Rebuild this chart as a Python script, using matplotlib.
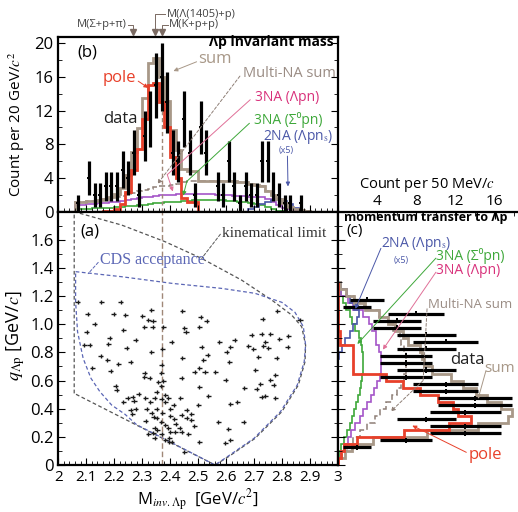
import numpy as np
import matplotlib
matplotlib.use('Agg')
import matplotlib.pyplot as plt
from matplotlib.ticker import MultipleLocator, FixedLocator, FixedFormatter
import matplotlib.transforms as mtransforms

plt.rcParams['font.family'] = ['Open Sans', 'DejaVu Sans']
plt.rcParams['mathtext.fontset'] = 'stix'

# ---------------- (b) Lambda-p invariant mass, 20 MeV bins ----------------
m_lo, m_hi, m_bw = 2.06, 2.90, 0.02
m_data = [2.07, 2.11, 2.13, 2.15, 2.17, 2.19, 2.21, 2.23, 2.25, 2.27,
          2.29, 2.31, 2.33, 2.35, 2.37, 2.39, 2.41, 2.43, 2.45, 2.47,
          2.49, 2.51, 2.53, 2.57, 2.59, 2.61, 2.63, 2.65, 2.67, 2.69,
          2.71, 2.73, 2.75, 2.77, 2.79, 2.81, 2.83, 2.87]
n_data = [1, 4, 2, 2, 3, 3, 3, 5, 4, 7,
          2, 9, 11, 15, 16, 13, 7, 6, 11, 7,
          2, 10, 7, 3, 2, 6, 3, 1, 3, 2,
          2, 6, 6, 3, 2, 1, 1, 1]

# histograms, one value per bin from 2.06 to 2.90
sum_b = [1.1, 1.1, 1.25, 1.3, 1.4, 1.5, 1.7, 2.05, 2.8, 4.35, 7.1, 9.9, 13.5, 17.7,
         18.2, 16.0, 13.1, 9.7, 7.3, 5.1, 4.8, 4.8, 3.7, 3.7, 3.7, 3.7, 3.6, 3.6,
         3.6, 3.5, 3.5, 3.3, 3.2, 3.0, 2.5, 2.0, 1.5, 1.0, 0.6, 0.35, 0.15, 0.05]
pole_b = [0, 0, 0, 0, 0, 0.05, 0.1, 0.3, 0.9, 2.3, 4.9, 7.5, 11.0, 15.0,
          15.3, 13.0, 10.0, 6.5, 4.0, 1.6, 1.2, 1.2, 0, 0, 0, 0, 0, 0,
          0, 0, 0, 0, 0, 0, 0, 0, 0, 0, 0, 0, 0, 0]
multi_b = [1.1, 1.1, 1.25, 1.3, 1.4, 1.45, 1.6, 1.75, 1.9, 2.05, 2.2, 2.4, 2.55, 2.7,
           2.9, 3.0, 3.1, 3.2, 3.3, 3.5, 3.6, 3.6, 3.7, 3.7, 3.7, 3.7, 3.6, 3.6,
           3.6, 3.5, 3.5, 3.3, 3.2, 3.0, 2.5, 2.0, 1.5, 1.0, 0.6, 0.35, 0.15, 0.05]
lpn_b = [0.8, 0.8, 0.9, 0.9, 1.0, 1.0, 1.1, 1.2, 1.3, 1.4, 1.5, 1.6, 1.7, 1.8,
         1.9, 2.0, 2.0, 2.0, 2.1, 2.1, 2.1, 2.1, 2.1, 2.1, 2.1, 2.0, 2.0, 2.0,
         1.9, 1.9, 1.9, 1.8, 1.8, 1.7, 1.5, 1.2, 0.8, 0.5, 0.3, 0.1, 0.05, 0]
s0pn_b = [0.3, 0.3, 0.35, 0.4, 0.4, 0.45, 0.5, 0.55, 0.6, 0.65, 0.7, 0.8, 0.85, 0.9,
          1.0, 1.05, 1.1, 1.15, 1.2, 1.25, 1.3, 1.35, 1.4, 1.4, 1.4, 1.4, 1.35, 1.3,
          1.25, 1.2, 1.1, 1.0, 0.9, 0.75, 0.55, 0.3, 0.1, 0.05, 0, 0, 0, 0]
twona_b = [0, 0, 0, 0, 0, 0, 0, 0, 0, 0, 0, 0, 0, 0,
           0, 0, 0, 0, 0, 0, 0, 0, 0, 0, 0, 0, 0, 0,
           0, 0, 0, 0.3, 0.6, 0.9, 1.2, 1.4, 1.5, 1.3, 0.9, 0.4, 0.1, 0]

# ---------------- (a) events: (M_inv, q) ----------------
events = [
    (2.069, 1.160), (2.153, 1.160), (2.223, 1.156),
    (2.105, 1.070), (2.199, 1.075), (2.239, 1.066), (2.301, 1.061), (2.332, 1.101),
    (2.444, 1.094), (2.510, 1.049), (2.783, 1.094),
    (2.131, 1.004), (2.322, 1.030), (2.339, 1.023), (2.532, 1.025), (2.731, 1.037), (2.865, 1.028),
    (2.308, 0.983), (2.338, 0.983), (2.376, 0.983), (2.451, 0.976), (2.504, 0.978), (2.233, 0.959),
    (2.101, 0.942), (2.457, 0.942), (2.692, 0.924), (2.728, 0.933), (2.758, 0.928), (2.823, 0.919),
    (2.185, 0.905), (2.277, 0.890), (2.406, 0.876), (2.576, 0.874), (2.632, 0.886), (2.740, 0.876),
    (2.791, 0.895),
    (2.093, 0.852), (2.112, 0.852), (2.178, 0.862), (2.245, 0.829),
    (2.333, 0.805), (2.372, 0.824), (2.513, 0.841), (2.680, 0.845), (2.616, 0.841), (2.698, 0.824),
    (2.734, 0.843), (2.752, 0.829), (2.821, 0.836),
    (2.152, 0.774), (2.535, 0.781), (2.603, 0.805), (2.716, 0.767),
    (2.175, 0.744), (2.215, 0.715), (2.260, 0.729), (2.444, 0.758), (2.519, 0.746), (2.611, 0.734),
    (2.782, 0.762),
    (2.122, 0.687), (2.187, 0.670), (2.370, 0.710), (2.505, 0.691), (2.704, 0.677),
    (2.310, 0.654), (2.368, 0.654), (2.489, 0.663), (2.525, 0.663), (2.561, 0.663), (2.776, 0.637),
    (2.308, 0.623), (2.327, 0.616), (2.358, 0.592), (2.376, 0.597), (2.442, 0.616), (2.599, 0.606),
    (2.758, 0.604), (2.723, 0.578),
    (2.205, 0.564), (2.368, 0.564), (2.505, 0.554), (2.666, 0.545), (2.710, 0.540), (2.771, 0.568),
    (2.210, 0.533),
    (2.352, 0.521), (2.382, 0.497), (2.437, 0.478), (2.537, 0.488), (2.248, 0.474), (2.267, 0.483),
    (2.288, 0.502), (2.311, 0.474), (2.346, 0.474), (2.370, 0.469), (2.394, 0.478), (2.740, 0.493),
    (2.777, 0.474), (2.728, 0.483),
    (2.233, 0.450), (2.271, 0.455), (2.329, 0.450), (2.383, 0.450), (2.413, 0.426), (2.501, 0.426),
    (2.616, 0.431), (2.640, 0.445),
    (2.260, 0.388), (2.278, 0.398), (2.317, 0.398), (2.352, 0.398), (2.400, 0.398), (2.459, 0.391),
    (2.475, 0.365), (2.442, 0.355), (2.265, 0.360), (2.334, 0.367), (2.372, 0.367), (2.341, 0.341),
    (2.401, 0.346),
    (2.352, 0.332), (2.313, 0.313), (2.368, 0.308), (2.415, 0.327), (2.459, 0.332), (2.475, 0.320),
    (2.420, 0.294), (2.573, 0.308), (2.663, 0.308), (2.382, 0.284),
    (2.346, 0.265), (2.394, 0.260), (2.355, 0.251), (2.434, 0.265), (2.442, 0.237), (2.487, 0.279),
    (2.609, 0.256), (2.322, 0.218), (2.340, 0.227), (2.370, 0.223), (2.400, 0.237), (2.418, 0.232),
    (2.465, 0.218), (2.397, 0.189),
    (2.346, 0.189), (2.382, 0.178), (2.397, 0.161), (2.406, 0.166), (2.505, 0.166), (2.597, 0.154),
    (2.616, 0.175),
    (2.451, 0.095),
]

# boundaries in the (M, q) plane
kin_m = [2.057, 2.057, 2.227, 2.382, 2.513, 2.656, 2.764, 2.835, 2.871, 2.885,
         2.883, 2.859, 2.800, 2.704, 2.609, 2.561, 2.057]
kin_q = [0.509, 1.800, 1.705, 1.587, 1.468, 1.314, 1.172, 1.066, 0.983, 0.852,
         0.734, 0.568, 0.379, 0.189, 0.059, 0.000, 0.509]
cds_m = [2.062, 2.227, 2.406, 2.585, 2.704, 2.800, 2.847, 2.877, 2.885, 2.880,
         2.855, 2.795, 2.700, 2.605, 2.561, 2.280, 2.239, 2.191, 2.149, 2.117,
         2.089, 2.069, 2.062, 2.062]
cds_q = [1.374, 1.338, 1.291, 1.255, 1.220, 1.156, 1.085, 0.983, 0.852, 0.734,
         0.568, 0.379, 0.189, 0.059, 0.000, 0.287, 0.360, 0.426, 0.521, 0.616,
         0.758, 0.947, 1.160, 1.374]
m_kpp = 2.370  # M(K+p+p)

# ---------------- (c) momentum transfer, 50 MeV/c bins ----------------
q_lo, q_hi, q_bw = 0.0, 1.30, 0.05
q_data = [0.125, 0.175, 0.225, 0.275, 0.325, 0.375, 0.425, 0.475, 0.525, 0.575, 0.625,
          0.675, 0.725, 0.775, 0.825, 0.875, 0.925, 0.975, 1.025, 1.075, 1.125, 1.175]
nq_data = [2, 7, 13, 13, 9, 13, 14, 14, 11, 11, 7, 9, 7, 7, 9, 11, 9, 6, 6, 8, 2, 3]

sum_c = [0, 0.7, 1.5, 3.6, 9.1, 14.3, 17.3, 17.8, 16.6, 15.2, 14.1, 12.8, 11.5,
         9.6, 8.8, 8.6, 8.4, 7.2, 6.6, 5.8, 5.1, 4.2, 2.8, 1.7, 0.8, 0.2]
pole_c = [0, 0.3, 0.6, 2.0, 6.8, 11.3, 13.6, 12.3, 11.7, 10.2, 8.4, 6.7, 4.9,
          1.6, 1.6, 1.6, 1.6, 0.2, 0.2, 0, 0, 0, 0, 0, 0, 0]
multi_c = [0, 0.4, 0.9, 1.6, 2.3, 3.0, 3.8, 4.3, 4.9, 5.5, 6.0, 6.4, 6.8,
           7.0, 7.0, 7.0, 6.8, 6.4, 6.3, 5.6, 5.1, 4.2, 2.7, 1.7, 0.8, 0.1]
lpn_c = [0, 0.3, 0.6, 1.0, 1.4, 1.8, 2.3, 2.6, 3.0, 3.4, 3.7, 4.0, 4.3,
         4.4, 4.4, 4.4, 4.2, 3.9, 3.9, 3.5, 3.2, 2.6, 1.6, 1.0, 0.3, 0]
s0pn_c = [0, 0.1, 0.3, 0.6, 0.9, 1.2, 1.5, 1.7, 1.9, 2.1, 2.3, 2.4, 2.5,
          2.6, 2.6, 2.6, 2.5, 2.4, 2.2, 1.8, 1.5, 1.2, 0.8, 0.5, 0.3, 0]
twona_c = [0, 0, 0, 0, 0, 0, 0, 0, 0, 0, 0, 0, 0,
           0, 0, 0.1, 0.4, 0.7, 1.2, 1.6, 2.0, 2.2, 1.7, 1.3, 0.9, 0.3]

# colours
c_sum = '#a89888'
c_multi = '#8e7f76'
c_pole = '#e8402a'
c_lpn_txt = '#d8307a'
c_lpn = '#a455c8'
c_green = '#3ea83a'
c_blue = '#4b58a8'
c_kin = '#555555'
c_cds = '#5b66b5'

fig = plt.figure(figsize=(5.18, 5.12), dpi=100)
axb = fig.add_axes([0.1125, 0.5865, 0.5395, 0.3422])
axa = fig.add_axes([0.1125, 0.0918, 0.5395, 0.4947])
axc = fig.add_axes([0.652, 0.0918, 0.36, 0.4947])

for ax in (axa, axb, axc):
    for s in ax.spines.values():
        s.set_linewidth(1.6)


def pointer(ax, p0, p1, color, ls='-', head=True):
    ax.annotate('', xy=p1, xytext=p0,
                arrowprops=dict(arrowstyle='-|>' if head else '-', color=color, lw=0.7,
                                ls=ls, mutation_scale=6, shrinkA=0, shrinkB=0))


# ---- panel (b) ----
edges_b = np.round(np.arange(m_lo, m_hi + 1e-6, m_bw), 3)
axb.stairs(multi_b, edges_b, color=c_multi, lw=1.1, ls=(0, (4, 2)))
axb.stairs(s0pn_b, edges_b, color=c_green, lw=1.2)
axb.stairs(lpn_b, edges_b, color=c_lpn, lw=1.2)
axb.stairs(twona_b, edges_b, color=c_blue, lw=1.2)
axb.stairs(sum_b, edges_b, color=c_sum, lw=2.0)
axb.stairs(pole_b, edges_b, color=c_pole, lw=2.0)
axb.plot([m_kpp, m_kpp], [0, 12], ls=(0, (3, 2)), color='#a08878', lw=1.0)
n_arr = np.array(n_data, float)
axb.errorbar(m_data, n_data, yerr=np.sqrt(n_arr), fmt='none', ecolor='k', elinewidth=2.3, capsize=0)
axb.errorbar(m_data, n_data, xerr=0.007, fmt='none', ecolor='k', elinewidth=1.4, capsize=0)

axb.set_xlim(2, 3)
axb.set_ylim(0, 20.8)
axb.yaxis.set_major_locator(FixedLocator([0, 4, 8, 12, 16, 20]))
axb.yaxis.set_minor_locator(MultipleLocator(2))
axb.xaxis.set_major_locator(MultipleLocator(0.1))
axb.xaxis.set_minor_locator(MultipleLocator(0.02))
axb.tick_params(which='both', direction='in', right=True, labelbottom=False, labelsize=12)
axb.tick_params(which='major', length=5)
axb.tick_params(which='minor', length=3)
axb.set_ylabel('Count per 20 GeV/$c^2$', fontsize=11)
axb.yaxis.set_label_coords(-0.112, 0.5)

axb.text(2.07, 18.9, '(b)', fontsize=12, va='center')
axb.text(2.985, 20.1, 'Λp invariant mass', fontsize=10, fontweight='bold', ha='right', va='center')
axb.text(2.50, 18.1, 'sum', fontsize=12, color=c_sum, va='center')
axb.text(2.16, 15.9, 'pole', fontsize=12, color=c_pole, va='center')
axb.text(2.16, 11.0, 'data', fontsize=12, color='#222222', va='center')
axb.text(2.662, 16.4, 'Multi-NA sum', fontsize=10.5, color='#9a8c84', va='center')
axb.text(2.705, 13.6, '3NA (Λpn)', fontsize=10, color=c_lpn_txt, va='center')
axb.text(2.70, 10.9, '3NA (Σ⁰pn)', fontsize=10, color=c_green, va='center')
axb.text(2.733, 8.9, '2NA (Λpn$_\\mathrm{s}$)', fontsize=10, color=c_blue, va='center')
axb.text(2.815, 7.3, '(x5)', fontsize=6.5, color=c_blue, ha='center', va='center')
pointer(axb, (2.495, 17.8), (2.412, 16.7), c_sum)
pointer(axb, (2.286, 15.5), (2.322, 14.7), c_pole)
pointer(axb, (2.65, 16.1), (2.355, 3.3), c_multi, ls=(0, (3, 2)))
pointer(axb, (2.687, 13.3), (2.39, 4.4), '#e07098', head=False)
pointer(axb, (2.39, 4.4), (2.41, 2.4), '#e07098')
pointer(axb, (2.684, 10.5), (2.46, 3.6), c_green, head=False)
pointer(axb, (2.46, 3.6), (2.447, 1.9), c_green)
pointer(axb, (2.82, 6.6), (2.822, 3.0), c_blue)

# threshold markers above (b)
trb = mtransforms.blended_transform_factory(axb.transData, axb.transAxes)
c_thr = '#7a6a62'
thr_m = [2.268, 2.347, 2.372]
axb.plot(thr_m, [1.025] * 3, 'v', ms=4.5, color=c_thr, transform=trb, clip_on=False)
axb.plot([2.25, 2.268, 2.268], [1.066, 1.066, 1.04], color=c_thr, lw=0.7, transform=trb, clip_on=False)
axb.plot([2.383, 2.347, 2.347], [1.128, 1.128, 1.04], color=c_thr, lw=0.7, transform=trb, clip_on=False)
axb.plot([2.393, 2.372, 2.372], [1.066, 1.066, 1.04], color=c_thr, lw=0.7, transform=trb, clip_on=False)
axb.text(2.245, 1.066, 'M(Σ+p+π)', fontsize=8, color='#444444', ha='right', va='center',
         transform=trb, clip_on=False)
axb.text(2.387, 1.128, 'M(Λ(1405)+p)', fontsize=8, color='#444444', ha='left', va='center',
         transform=trb, clip_on=False)
axb.text(2.397, 1.066, 'M(K+p+p)', fontsize=8, color='#444444', ha='left', va='center',
         transform=trb, clip_on=False)

# ---- panel (a) ----
ev = np.array(events)
axa.plot(kin_m, kin_q, ls=(0, (3, 2)), color=c_kin, lw=0.9)
axa.plot(cds_m, cds_q, ls=(0, (3, 2)), color=c_cds, lw=0.9)
axa.axvline(m_kpp, ls=(0, (4, 2)), color='#a08878', lw=1.0)
axa.errorbar(ev[:, 0], ev[:, 1], xerr=0.009, yerr=0.014, fmt='none', ecolor='#1a1a1a',
             elinewidth=1.0, capsize=0)
axa.set_xlim(2, 3)
axa.set_ylim(0, 1.8)
xt = [2.0, 2.1, 2.2, 2.3, 2.4, 2.5, 2.6, 2.7, 2.8, 2.9, 3.0]
axa.xaxis.set_major_locator(FixedLocator(xt))
axa.xaxis.set_major_formatter(FixedFormatter(['2', '2.1', '2.2', '2.3', '2.4', '2.5', '2.6',
                                               '2.7', '2.8', '2.9', '3']))
axa.xaxis.set_minor_locator(MultipleLocator(0.02))
yt = [0, 0.2, 0.4, 0.6, 0.8, 1.0, 1.2, 1.4, 1.6]
axa.yaxis.set_major_locator(FixedLocator(yt))
axa.yaxis.set_major_formatter(FixedFormatter(['0', '0.2', '0.4', '0.6', '0.8', '1.0', '1.2',
                                               '1.4', '1.6']))
axa.yaxis.set_minor_locator(MultipleLocator(0.1))
axa.tick_params(which='both', direction='in', right=True)
axa.tick_params(axis='x', labelsize=11)
axa.tick_params(axis='y', labelsize=12)
axa.tick_params(which='major', length=5)
axa.tick_params(which='minor', length=3)
axa.set_ylabel('$q_{\\Lambda\\mathrm{p}}$ [GeV/$c$]', fontsize=13)
axa.yaxis.set_label_coords(-0.112, 0.51)
axa.set_xlabel('M$_{inv.\\Lambda\\mathrm{p}}$  [GeV/$c^2$]', fontsize=12)
axa.xaxis.set_label_coords(0.5, -0.09)

axa.text(2.08, 1.66, '(a)', fontsize=12, va='center')
axa.text(2.585, 1.646, 'kinematical limit', fontsize=11, family='Liberation Serif',
         color='#333333', va='center')
axa.text(2.149, 1.456, 'CDS acceptance', fontsize=11.5, family='Liberation Serif',
         color=c_cds, va='center')
pointer(axa, (2.58, 1.64), (2.513, 1.468), c_kin, ls=(0, (3, 2)), head=False)
pointer(axa, (2.143, 1.44), (2.107, 1.36), c_cds, ls=(0, (3, 2)), head=False)

# ---- panel (c) ----
edges_c = np.round(np.arange(q_lo, q_hi + 1e-6, q_bw), 3)
kw = dict(orientation='horizontal')
axc.stairs(multi_c, edges_c, color=c_multi, lw=1.1, ls=(0, (4, 2)), **kw)
axc.stairs(s0pn_c, edges_c, color=c_green, lw=1.2, **kw)
axc.stairs(lpn_c, edges_c, color=c_lpn, lw=1.2, **kw)
axc.stairs(twona_c, edges_c, color=c_blue, lw=1.2, **kw)
axc.stairs(sum_c, edges_c, color=c_sum, lw=2.0, **kw)
axc.stairs(pole_c, edges_c, color=c_pole, lw=2.0, **kw)
nq = np.array(nq_data, float)
axc.errorbar(nq_data, q_data, xerr=np.sqrt(nq), fmt='none', ecolor='k', elinewidth=2.3, capsize=0)
axc.errorbar(nq_data, q_data, yerr=0.018, fmt='none', ecolor='k', elinewidth=1.4, capsize=0)

axc.set_xlim(0, 19)
axc.set_ylim(0, 1.8)
axc.spines['bottom'].set_visible(False)
axc.spines['right'].set_visible(False)
axc.xaxis.tick_top()
axc.xaxis.set_label_position('top')
axc.xaxis.set_major_locator(FixedLocator([4, 8, 12, 16]))
axc.xaxis.set_minor_locator(MultipleLocator(2))
axc.yaxis.set_major_locator(MultipleLocator(0.2))
axc.yaxis.set_minor_locator(MultipleLocator(0.1))
axc.tick_params(which='both', direction='in', bottom=False, right=False, labelleft=False,
                labelsize=11, pad=2)
axc.tick_params(which='major', length=5)
axc.tick_params(which='minor', length=3)
axc.set_xlabel('Count per 50 MeV/$c$', fontsize=10.5, labelpad=1)
axc.xaxis.set_label_coords(0.48, 1.095)

axc.text(0.6, 1.76, 'momentum transfer to Λp', fontsize=9, fontweight='bold', va='center')
axc.text(0.9, 1.665, '(c)', fontsize=11, va='center')
axc.text(4.4, 1.57, '2NA (Λpn$_\\mathrm{s}$)', fontsize=10, color=c_blue, va='center')
axc.text(6.5, 1.45, '(x5)', fontsize=6.5, color=c_blue, ha='center', va='center')
axc.text(10.0, 1.485, '3NA (Σ⁰pn)', fontsize=10, color=c_green, va='center')
axc.text(10.0, 1.38, '3NA (Λpn)', fontsize=10, color=c_lpn_txt, va='center')
axc.text(9.2, 1.14, 'Multi-NA sum', fontsize=9.5, color='#9a8c84', va='center')
axc.text(11.5, 0.745, 'data', fontsize=12, color='#222222', va='center')
axc.text(14.9, 0.685, 'sum', fontsize=11, color=c_sum, va='center')
axc.text(13.3, 0.074, 'pole', fontsize=12, color=c_pole, va='center')
pointer(axc, (4.4, 1.54), (1.8, 1.11), c_blue)
pointer(axc, (10.0, 1.47), (2.0, 0.86), c_green)
pointer(axc, (10.0, 1.37), (4.6, 0.82), '#e07098')
pointer(axc, (9.1, 1.11), (8.7, 0.6), c_multi, ls=(0, (3, 2)), head=False)
pointer(axc, (8.7, 0.6), (5.4, 0.38), c_multi, ls=(0, (3, 2)))
pointer(axc, (15.1, 0.67), (14.3, 0.47), c_sum)
pointer(axc, (13.1, 0.09), (7.6, 0.28), c_pole)

fig.savefig('out.png', dpi=100)
